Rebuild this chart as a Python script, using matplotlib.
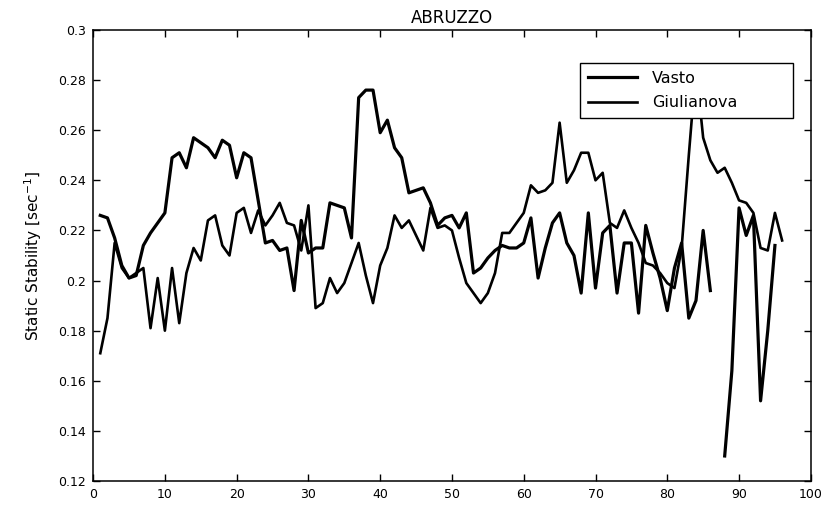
import numpy as np
import matplotlib
matplotlib.use("Agg")
import matplotlib.pyplot as plt
from matplotlib.ticker import FuncFormatter

plt.rcParams['font.family'] = ['DejaVu Sans']

# sample index (1..96)
x = np.arange(1, 97)

# Vasto series (gap at 87)
vasto = [0.226, 0.225, 0.217, 0.206, 0.201, 0.202, 0.214, 0.219, 0.223, 0.227,
         0.249, 0.251, 0.245, 0.257, 0.255, 0.253, 0.249, 0.256, 0.254, 0.241,
         0.251, 0.249, 0.232, 0.215, 0.216, 0.212, 0.213, 0.196, 0.224, 0.211,
         0.213, 0.213, 0.231, 0.230, 0.229, 0.217, 0.273, 0.276, 0.276, 0.259,
         0.264, 0.253, 0.249, 0.235, 0.236, 0.237, 0.231, 0.222, 0.225, 0.226,
         0.221, 0.227, 0.203, 0.205, 0.209, 0.212, 0.214, 0.213, 0.213, 0.215,
         0.225, 0.201, 0.213, 0.223, 0.227, 0.215, 0.210, 0.195, 0.227, 0.197,
         0.219, 0.222, 0.195, 0.215, 0.215, 0.187, 0.222, 0.211, 0.201, 0.188,
         0.205, 0.215, 0.185, 0.192, 0.220, 0.196, np.nan, 0.130, 0.164, 0.229,
         0.218, 0.226, 0.152, 0.180, 0.214, np.nan]

# Giulianova series
giulianova = [0.171, 0.185, 0.215, 0.205, 0.201, 0.203, 0.205, 0.181, 0.201, 0.180,
              0.205, 0.183, 0.203, 0.213, 0.208, 0.224, 0.226, 0.214, 0.210, 0.227,
              0.229, 0.219, 0.228, 0.222, 0.226, 0.231, 0.223, 0.222, 0.212, 0.230,
              0.189, 0.191, 0.201, 0.195, 0.199, 0.207, 0.215, 0.202, 0.191, 0.206,
              0.213, 0.226, 0.221, 0.224, 0.218, 0.212, 0.229, 0.221, 0.222, 0.220,
              0.209, 0.199, 0.195, 0.191, 0.195, 0.203, 0.219, 0.219, 0.223, 0.227,
              0.238, 0.235, 0.236, 0.239, 0.263, 0.239, 0.244, 0.251, 0.251, 0.240,
              0.243, 0.223, 0.221, 0.228, 0.221, 0.215, 0.207, 0.206, 0.203, 0.199,
              0.197, 0.213, 0.250, 0.285, 0.257, 0.248, 0.243, 0.245, 0.239, 0.232,
              0.231, 0.227, 0.213, 0.212, 0.227, 0.216]

x_ticks = np.arange(0, 101, 10)
y_ticks = [0.12, 0.14, 0.16, 0.18, 0.2, 0.22, 0.24, 0.26, 0.28, 0.3]

fig = plt.figure(figsize=(8.24, 5.12), dpi=100)
ax = fig.add_axes([0.113, 0.0605, 0.871, 0.881])

ax.plot(x, vasto, color='black', lw=2.3, label='Vasto')
ax.plot(x, giulianova, color='black', lw=1.9, label='Giulianova')

ax.set_xlim(0, 100)
ax.set_ylim(0.12, 0.3)
ax.set_xticks(x_ticks)
ax.set_yticks(y_ticks)
ax.yaxis.set_major_formatter(FuncFormatter(lambda v, p: '%g' % round(v, 3)))
ax.tick_params(direction='in', top=True, right=True, length=5, width=1,
               labelsize=9, pad=5)
for s in ax.spines.values():
    s.set_linewidth(1.1)

ax.set_title('ABRUZZO', fontsize=12, pad=5)
ax.set_ylabel('Static Stability [sec$^{-1}$]', fontsize=11, labelpad=10)

leg = ax.legend(loc='upper left', bbox_to_anchor=(0.667, 0.812, 0.32, 0.133),
                mode='expand', fancybox=False, framealpha=1, edgecolor='black',
                fontsize=11.5, handlelength=3.1, handletextpad=0.9,
                borderpad=0.5, labelspacing=0.6)
leg.get_frame().set_linewidth(1.0)
leg.set_zorder(10)

fig.savefig('out.png', dpi=100)
